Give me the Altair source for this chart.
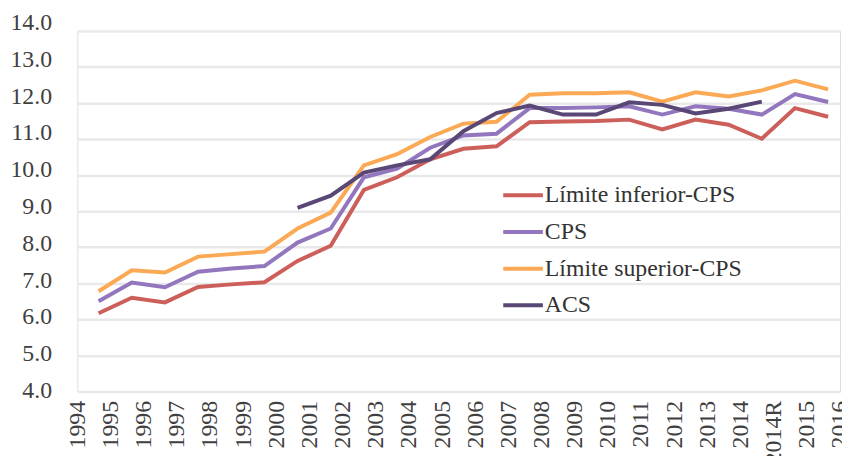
import altair as alt
import pandas as pd

axis_labels = ["1994", "1995", "1996", "1997", "1998", "1999", "2000", "2001", "2002",
               "2003", "2004", "2005", "2006", "2007", "2008", "2009", "2010", "2011",
               "2012", "2013", "2014", "2014R", "2015", "2016"]
years = axis_labels[1:]

inferior = [6.17, 6.60, 6.47, 6.90, 6.97, 7.03, 7.62, 8.04, 9.59, 9.94, 10.44, 10.73,
            10.80, 11.47, 11.49, 11.50, 11.54, 11.27, 11.54, 11.40, 11.01, 11.86, 11.62]
cps = [6.50, 7.02, 6.89, 7.32, 7.41, 7.48, 8.13, 8.52, 9.94, 10.18, 10.76, 11.10,
       11.15, 11.86, 11.86, 11.88, 11.91, 11.68, 11.91, 11.84, 11.68, 12.25, 12.03]
superior = [6.78, 7.36, 7.30, 7.74, 7.81, 7.88, 8.52, 8.96, 10.27, 10.58, 11.06, 11.43,
            11.48, 12.23, 12.27, 12.27, 12.30, 12.04, 12.30, 12.18, 12.35, 12.62, 12.38]
acs_years = ["2001", "2002", "2003", "2004", "2005", "2006", "2007", "2008", "2009",
             "2010", "2011", "2012", "2013", "2014", "2014R"]
acs = [9.09, 9.43, 10.07, 10.27, 10.44, 11.22, 11.72, 11.93, 11.68, 11.68, 12.02,
       11.95, 11.71, 11.84, 12.04]

series_names = ["Límite inferior-CPS", "CPS", "Límite superior-CPS", "ACS"]
series_colors = ["#cd5f5b", "#9276be", "#fba955", "#594775"]

rows = []
for name, ys, vals in [(series_names[0], years, inferior),
                       (series_names[1], years, cps),
                       (series_names[2], years, superior),
                       (series_names[3], acs_years, acs)]:
    for y, v in zip(ys, vals):
        rows.append({"year": y, "value": v, "serie": name, "k": series_names.index(name)})
df = pd.DataFrame(rows)

FONT = "Liberation Serif"

chart = alt.Chart(df).mark_line(strokeWidth=4, xOffset=-12).encode(
    x=alt.X("year:N", sort=axis_labels,
            scale=alt.Scale(type="point", domain=axis_labels, padding=0),
            axis=alt.Axis(title=None, labelAngle=270, labelFont=FONT, labelFontSize=24,
                          labelColor="#404040", ticks=False, domain=False, grid=False,
                          labelPadding=9, labelOverlap=False)),
    y=alt.Y("value:Q",
            scale=alt.Scale(domain=[4, 14], nice=False, zero=False),
            axis=alt.Axis(title=None, values=list(range(4, 15)), format=".1f",
                          grid=True, gridColor="#e9e9e9", gridWidth=2.5,
                          domain=False, ticks=False, labelPadding=26,
                          labelFont=FONT, labelFontSize=24, labelColor="#404040",
                          labelOffset=alt.ExprRef("-1 - 0.75*(datum.value - 4)"))),
    color=alt.Color("serie:N",
                    scale=alt.Scale(domain=series_names, range=series_colors),
                    legend=alt.Legend(title=None, orient="none", legendX=428, legendY=144,
                                      symbolType="stroke", symbolStrokeWidth=4,
                                      symbolSize=1600, labelFont=FONT, labelFontSize=24,
                                      labelColor="#333333", labelOffset=0, labelLimit=0,
                                      rowPadding=3)),
    order=alt.Order("k:Q"),
    detail="serie:N",
).properties(
    width=770, height=364,
    autosize=alt.AutoSizeParams(type="none"),
    padding={"left": 70, "top": 21, "right": 2, "bottom": 63},
).configure_view(stroke=None).configure(background="white")

chart.save("out.html", embed_options={"renderer": "svg", "actions": False})
